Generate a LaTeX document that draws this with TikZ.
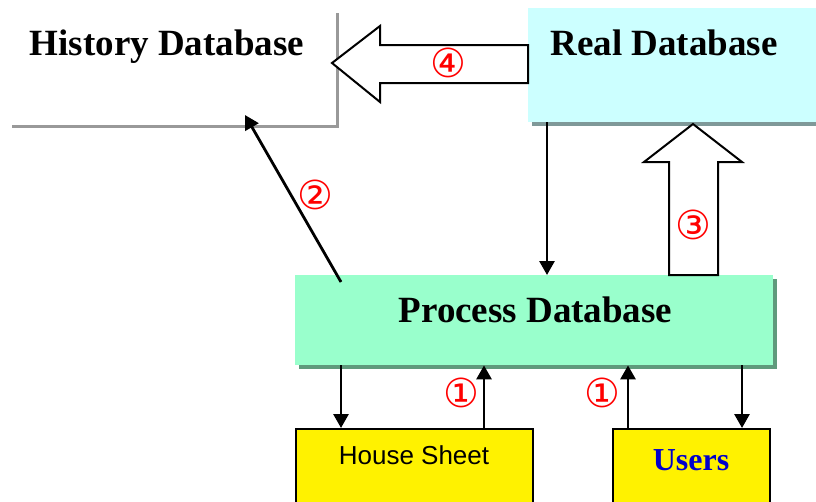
\documentclass[tikz,border=0pt]{standalone}
\usepackage{fontspec}
\setmainfont{Liberation Serif}
\newfontfamily\arialfont{Liberation Sans}
\newfontfamily\circfont{DejaVu Sans}
\usetikzlibrary{arrows.meta}
\definecolor{realfill}{HTML}{CCFFFF}
\definecolor{realshadow}{HTML}{7F9999}
\definecolor{procfill}{HTML}{99FFCC}
\definecolor{procshadow}{HTML}{5F9A7C}
\definecolor{histgray}{HTML}{999999}
\definecolor{userblue}{HTML}{0000CC}
\definecolor{numred}{HTML}{FF0000}
\begin{document}
\begin{tikzpicture}[x=1pt,y=-1pt,
  title/.style={font=\fontsize{37}{37}\selectfont\bfseries, anchor=base, inner sep=0pt},
  num/.style={font=\circfont\fontsize{40}{40}\selectfont, text=numred, inner sep=0pt},
  arr/.style={line width=2.8pt, -{Triangle[length=14pt,width=15pt]}},
  block/.style={draw=black, line width=2pt, fill=white, line join=miter},
  dbbox/.style={draw=none, anchor=north west, inner sep=0pt},
  yellowbox/.style={draw=black, line width=2pt, fill=yellow, anchor=north west, inner sep=0pt},
]
\useasboundingbox (0,0) rectangle (816,501);
\clip (0,0) rectangle (816,501);
\fill[white] (0,0) rectangle (816,501);

% History database region
\node[title] (hist) at (167,55) {History Database};
\coordinate (histcorner) at (337,126);
\draw[histgray, line width=3pt] (12,126) -- (histcorner) -- (337,13);

% Real database
\node[dbbox, fill=realfill, minimum width=300pt, minimum height=114pt] (real) at (528,8) {};
\fill[realshadow] ([shift={(4,0)}]real.south west) rectangle ([shift={(4,4)}]real.south east);
\node[title] (realtxt) at (664,55) {Real Database};

% Process database
\node[dbbox, fill=procfill, minimum width=478pt, minimum height=90pt] (proc) at (295,275) {};
\fill[procshadow] ([shift={(4,0)}]proc.south west) rectangle ([shift={(4,4)}]proc.south east);
\fill[procshadow] ([shift={(0,4)}]proc.north east) rectangle ([shift={(4,4)}]proc.south east);
\node[title] (proctxt) at (535.5,322) {Process Database};

% Bottom boxes
\node[yellowbox, minimum width=237pt, minimum height=80pt] (house) at (295,428) {};
\node[font=\arialfont\fontsize{26}{26}\selectfont, anchor=base, inner sep=0pt] (housetxt) at (414,464) {House Sheet};
\node[yellowbox, minimum width=157pt, minimum height=80pt] (users) at (612,428) {};
\node[title, text=userblue, font=\fontsize{32}{32}\selectfont\bfseries] (userstxt) at (691,470) {Users};

% Block arrow 4 (Real -> History)
\draw[block] (real.west |- 0,45) -- (380,45) -- (380,26) -- (332,63) -- (380,102) -- (380,83) -- (real.west |- 0,83) -- cycle;
\node[num] (n4) at (448,63) {④};

% Block arrow 3 (Process -> Real)
\draw[block] (669,275) -- (669,162) -- (644,162) -- (693,124) -- (742,162) -- (718,162) -- (718,275) -- cycle;
\node[num] (n3) at (693,225) {③};

% Real -> Process
\coordinate (xr) at (547,0);
\draw[arr] (real.south -| xr) -- (proc.north -| xr);

% Process -> History
\coordinate (p2) at (341,282);
\coordinate (h2) at (245,115);
\draw[arr] (p2) -- (h2);
\node[num] (n2) at (315,195) {②};

% Process <-> House Sheet
\coordinate (xa) at (341,0);
\coordinate (xb) at (484,0);
\draw[arr] (proc.south -| xa) -- (house.north -| xa);
\draw[arr] (house.north -| xb) -- (proc.south -| xb);
\node[num] (n1a) at (461,393) {①};

% Process <-> Users
\coordinate (xc) at (628,0);
\coordinate (xd) at (742,0);
\draw[arr] (users.north -| xc) -- (proc.south -| xc);
\draw[arr] (proc.south -| xd) -- (users.north -| xd);
\node[num] (n1b) at (602,393) {①};
\end{tikzpicture}
\end{document}
